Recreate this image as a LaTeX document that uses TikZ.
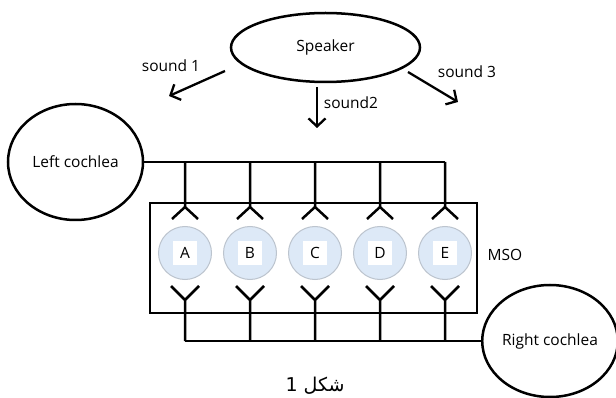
\documentclass[tikz,border=0pt]{standalone}
\usepackage{fontspec}
\setmainfont{Open Sans}
\newfontfamily\arabicfont[Script=Arabic]{DejaVu Sans}
\TeXXeTstate=1
\usetikzlibrary{shapes.geometric,arrows.meta}
\definecolor{cellblue}{RGB}{221,233,247}
\definecolor{cellrim}{RGB}{188,196,206}

\begin{document}
\begin{tikzpicture}[x=1pt,y=-1pt,
   font=\fontsize{15.5}{18}\selectfont,
   wire/.style={line width=2.5pt},
   sndarrow/.style={line width=2.3pt,-{Straight Barb[length=8pt,width=17pt]}},
   cochlea/.style={draw,ellipse,line width=2.5pt,inner sep=0pt},
   neuron/.style={circle,fill=cellblue,draw=cellrim,line width=1pt,minimum size=53pt,inner sep=0pt,
      path picture={\fill[white] ([xshift=-12pt,yshift=-12pt]path picture bounding box.center) rectangle ++(24pt,24pt);}}]
   \useasboundingbox (0,0) rectangle (616,398);

   \node[cochlea,minimum width=189pt,minimum height=69pt] (spk) at (325.5,47.5) {Speaker};
   \node (s1) at (171,66) {sound 1};
   \node (s2) at (351,103) {sound2};
   \node (s3) at (467,72) {sound 3};

   \coordinate (s1from) at (225,71);
   \coordinate (s1to) at (169,96);
   \coordinate (s2from) at (317,87);
   \coordinate (s2to) at (317,128);
   \coordinate (s3from) at (408,72);
   \coordinate (s3to) at (458,102);
   \draw[sndarrow] (s1from) -- (s1to);
   \draw[sndarrow] (s2from) -- (s2to);
   \draw[sndarrow] (s3from) -- (s3to);

   \node[cochlea,minimum width=135pt,minimum height=116pt] (lc) at (75.5,162) {Left cochlea};
   \node[cochlea,minimum width=130pt,minimum height=112pt] (rc) at (550,341) {Right cochlea};

   \node[draw,wire,minimum width=327pt,minimum height=110pt,inner sep=0pt] (msobox) at (313.5,258) {};
   \node (msolbl) at (505,255) {MSO};

   \node[neuron] (nA) at (185,253) {A};
   \node[neuron] (nB) at (250,253) {B};
   \node[neuron] (nC) at (315,253) {C};
   \node[neuron] (nD) at (380,253) {D};
   \node[neuron] (nE) at (445,253) {E};

   % left cochlea to the top of each cell
   \draw[wire] (lc.east) -- (lc.east -| nE.center);
   \draw[wire] (lc.east -| nA.center) -- ([yshift=19pt]nA.north) ++(-13pt,-12pt) -- ++(13pt,12pt) -- ++(13pt,-12pt);
   \draw[wire] (lc.east -| nB.center) -- ([yshift=19pt]nB.north) ++(-13pt,-12pt) -- ++(13pt,12pt) -- ++(13pt,-12pt);
   \draw[wire] (lc.east -| nC.center) -- ([yshift=19pt]nC.north) ++(-13pt,-12pt) -- ++(13pt,12pt) -- ++(13pt,-12pt);
   \draw[wire] (lc.east -| nD.center) -- ([yshift=19pt]nD.north) ++(-13pt,-12pt) -- ++(13pt,12pt) -- ++(13pt,-12pt);
   \draw[wire] (lc.east -| nE.center) -- ([yshift=19pt]nE.north) ++(-13pt,-12pt) -- ++(13pt,12pt) -- ++(13pt,-12pt);

   % right cochlea to the bottom of each cell
   \draw[wire] (nA.center |- rc.west) -- (rc.west);
   \draw[wire] (nA.center |- rc.west) -- ([yshift=-20pt]nA.south) ++(-14pt,14pt) -- ++(14pt,-14pt) -- ++(14pt,14pt);
   \draw[wire] (nB.center |- rc.west) -- ([yshift=-20pt]nB.south) ++(-14pt,14pt) -- ++(14pt,-14pt) -- ++(14pt,14pt);
   \draw[wire] (nC.center |- rc.west) -- ([yshift=-20pt]nC.south) ++(-14pt,14pt) -- ++(14pt,-14pt) -- ++(14pt,14pt);
   \draw[wire] (nD.center |- rc.west) -- ([yshift=-20pt]nD.south) ++(-14pt,14pt) -- ++(14pt,-14pt) -- ++(14pt,14pt);
   \draw[wire] (nE.center |- rc.west) -- ([yshift=-20pt]nE.south) ++(-14pt,14pt) -- ++(14pt,-14pt) -- ++(14pt,14pt);

   \node[font=\arabicfont\fontsize{19}{22}\selectfont] (fig) at (315,386) {\beginR شکل 1\endR};
\end{tikzpicture}
\end{document}
